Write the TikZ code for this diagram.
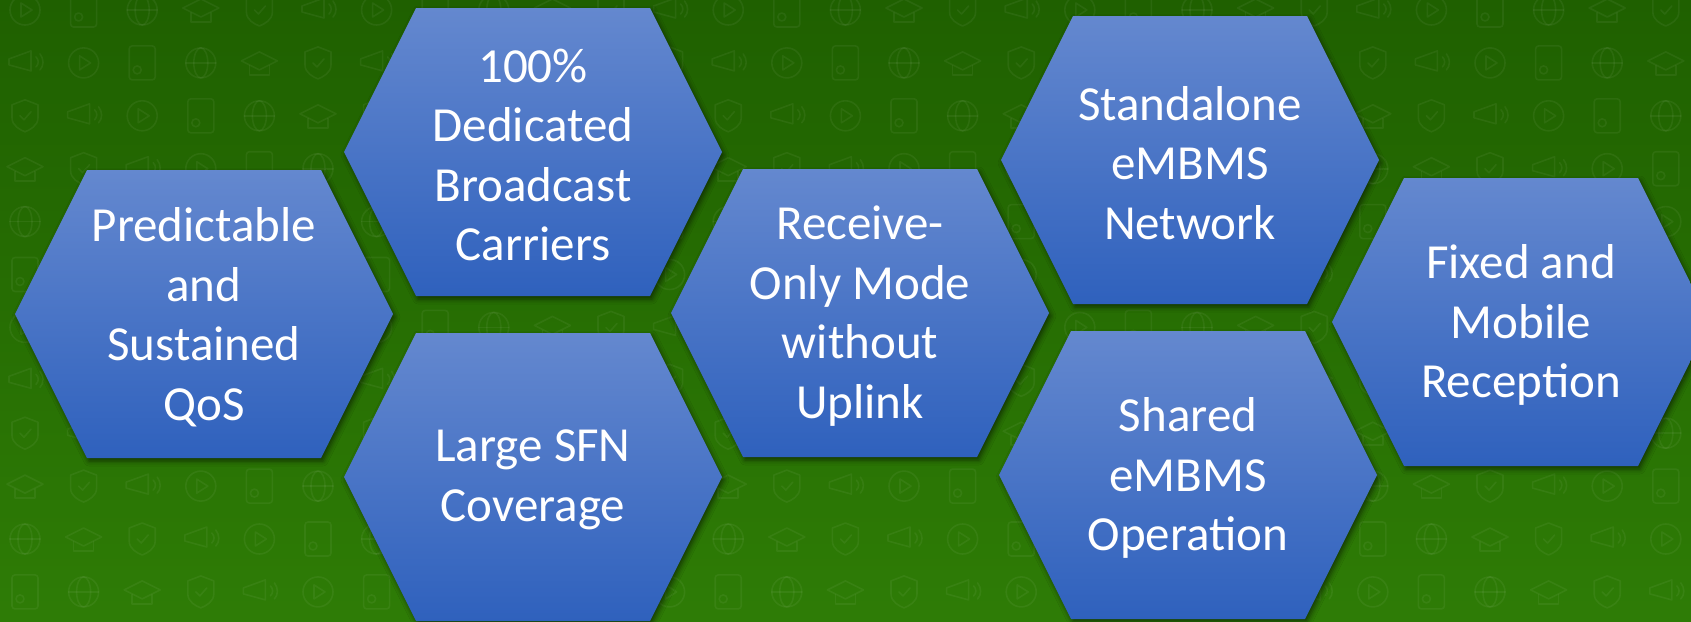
\documentclass[tikz,border=0pt]{standalone}
\usepackage{fontspec}
\setmainfont{Carlito}
\usetikzlibrary{shadows.blur}
\definecolor{bgtop}{RGB}{31,96,0}
\definecolor{bgbot}{RGB}{46,124,6}
\definecolor{hextop}{RGB}{100,136,207}
\definecolor{hexbot}{RGB}{47,97,189}
\tikzset{
  hexbody/.style={top color=hextop, bottom color=hexbot,
    blur shadow={shadow xshift=2pt, shadow yshift=-3pt, shadow blur radius=5pt, shadow opacity=55}},
  hextext/.style={text=white, align=center, inner sep=0pt, yshift=-3pt,
    font=\fontsize{49}{59.5}\selectfont},
  icon/.style={draw=white, draw opacity=0.055, line width=1.6pt, line join=round, line cap=round},
}
% a flat-topped hexagon cell: name, centre x, centre y, label
\newcommand\hexcell[4]{%
  \path[hexbody] (#2-189,#3) -- (#2-117,#3-144) -- (#2+117,#3-144)
     -- (#2+189,#3) -- (#2+117,#3+144) -- (#2-117,#3+144) -- cycle;
  \node[hextext] (#1) at (#2,#3) {#4};}
\begin{document}
\begin{tikzpicture}[x=1pt,y=-1pt]
\useasboundingbox (0,0) rectangle (1691,621);
\clip (0,0) rectangle (1691,621);
% green backdrop
\shade[top color=bgtop, bottom color=bgbot] (0,0) rectangle (1691,621);
% faint icon wallpaper
\foreach \i in {0,...,28} {
  \foreach \j in {0,...,11} {
    \pgfmathsetmacro\cx{25+58.6*\i}
    \pgfmathsetmacro\cy{10+52.9*\j}
    \pgfmathtruncatemacro\k{mod(\i+5*\j,6)}
    \begin{scope}[shift={(\cx,\cy)}, icon]
      \ifcase\k
        \draw (0,0) circle (15); \draw (-4,-7) -- (7,0) -- (-4,7) -- cycle;
      \or
        \draw[rounded corners=3pt] (-13,-17) rectangle (13,17); \draw (-5,7) circle (4);
      \or
        \draw (0,0) circle (15); \draw (0,0) ellipse (7 and 15); \draw (-15,0) -- (15,0);
      \or
        \draw (-18,-2) -- (0,-11) -- (18,-2) -- (0,7) -- cycle;
        \draw (-10,3) -- (-10,12) -- (10,12) -- (10,3);
      \or
        \draw (0,-16) -- (13,-11) -- (13,2) .. controls (13,10) and (5,14) .. (0,16)
              .. controls (-5,14) and (-13,10) .. (-13,2) -- (-13,-11) -- cycle;
        \draw (-5,0) -- (-1,4) -- (6,-4);
      \or
        \draw (-16,-4) -- (6,-12) -- (6,8) -- (-16,2) -- cycle;
        \draw (11,-6) .. controls (14,-3) and (14,1) .. (11,4);
        \draw (15,-9) .. controls (19,-4) and (19,3) .. (15,7);
      \fi
    \end{scope}
  }
}
% feature cells
\hexcell{qos}{204}{314}{Predictable\\and\\Sustained\\QoS}
\hexcell{dedicated}{533}{152}{100\%\\Dedicated\\Broadcast\\Carriers}
\hexcell{sfn}{533}{477}{Large SFN\\Coverage}
\hexcell{rxonly}{860}{313}{Receive-\\Only Mode\\without\\Uplink}
\hexcell{standalone}{1190}{160}{Standalone\\eMBMS\\Network}
\hexcell{shared}{1188}{475}{Shared\\eMBMS\\Operation}
\hexcell{fixedmobile}{1521}{322}{Fixed and\\Mobile\\Reception}
\end{tikzpicture}
\end{document}
